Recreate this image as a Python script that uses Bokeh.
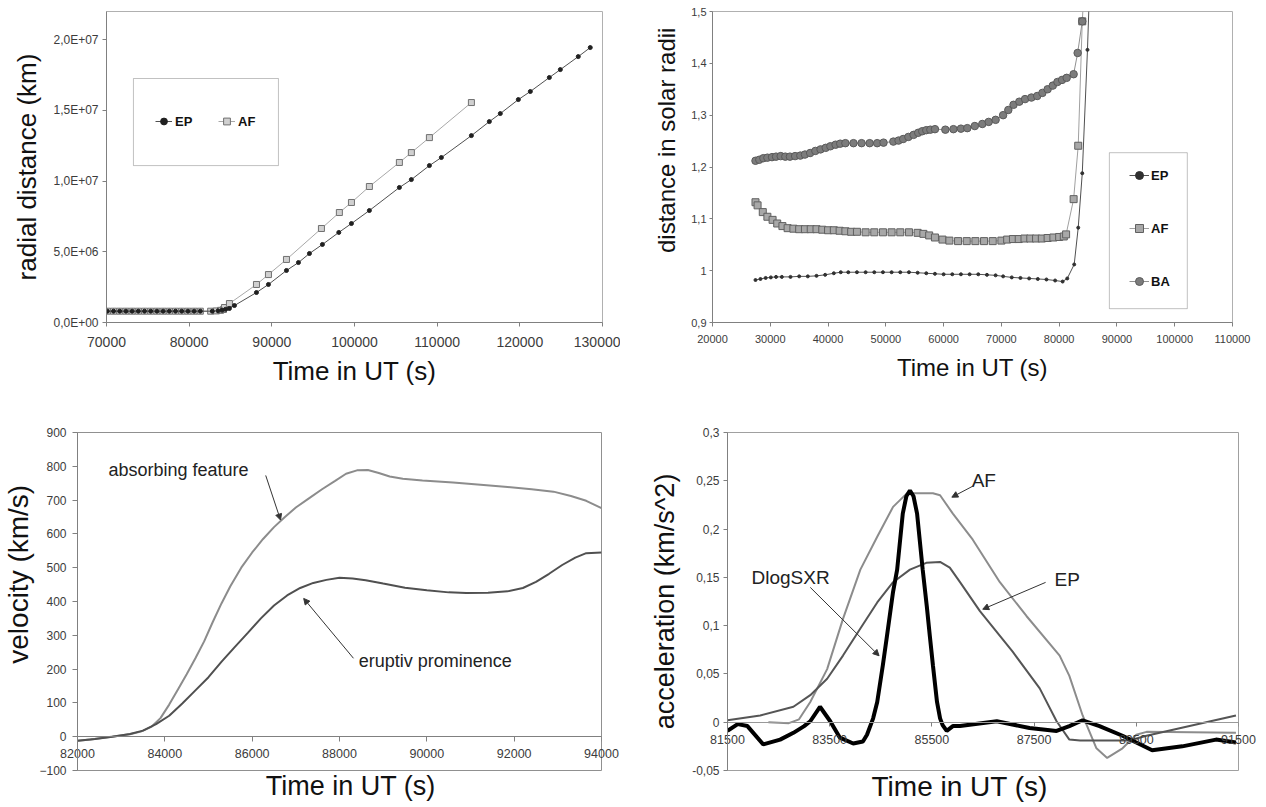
from bokeh.plotting import figure
from bokeh.layouts import row, column
from bokeh.models import (LinearAxis, FixedTicker, CustomJSTickFormatter, BasicTickFormatter,
                          Legend, LegendItem, BoxAnnotation, Label, Arrow, NormalHead, Range1d)
from bokeh.embed import file_html
from bokeh.resources import INLINE

FONT = "Liberation Sans"
NB = "\u00a0"

# ---------------- panel 1 : radial distance ----------------
rd_ep_t = [70100, 70850, 71600, 72350, 73100, 73850, 74600, 75350, 76100, 76850, 77600, 78350,
           79100, 79850, 80600, 81350, 82800, 83500, 84000, 84400, 84870, 85480, 88140, 89590,
           91770, 93220, 94550, 96120, 98100, 99630, 101800, 105430, 106880, 109060, 110510,
           114140, 116310, 117640, 119820, 121270, 123570, 124900, 127070, 128520]
rd_ep_r = [8.0e5, 8.0e5, 8.0e5, 8.0e5, 8.0e5, 8.0e5, 8.0e5, 8.0e5, 8.0e5, 8.0e5, 8.0e5, 8.0e5,
           8.0e5, 8.0e5, 8.0e5, 8.0e5, 8.0e5, 8.3e5, 8.8e5, 9.3e5, 9.9e5, 1.20e6, 2.12e6, 2.69e6,
           3.68e6, 4.24e6, 4.88e6, 5.52e6, 6.37e6, 7.0e6, 7.92e6, 9.55e6, 1.011e7, 1.11e7, 1.167e7,
           1.322e7, 1.421e7, 1.478e7, 1.577e7, 1.634e7, 1.733e7, 1.789e7, 1.881e7, 1.945e7]
rd_af_t = [70100, 70850, 71600, 72350, 73100, 73850, 74600, 75350, 76100, 76850, 77600, 78350,
           79100, 79850, 80600, 81350, 82600, 83300, 83800, 84150, 84270, 84870, 88140, 89590,
           91770, 96000, 98170, 99630, 101800, 105430, 106880, 109060, 114140]
rd_af_r = [8.0e5, 8.0e5, 8.0e5, 8.0e5, 8.0e5, 8.0e5, 8.0e5, 8.0e5, 8.0e5, 8.0e5, 8.0e5, 8.0e5,
           8.0e5, 8.0e5, 8.0e5, 8.0e5, 8.0e5, 8.2e5, 8.6e5, 9.2e5, 1.06e6, 1.34e6, 2.69e6, 3.39e6,
           4.46e6, 6.65e6, 7.78e6, 8.49e6, 9.62e6, 1.132e7, 1.202e7, 1.308e7, 1.556e7]
rd_xticks = [70000, 80000, 90000, 100000, 110000, 120000, 130000]
rd_yticks = [0, 5e6, 1e7, 1.5e7, 2e7]

# ---------------- panel 2 : distance in solar radii ----------------
sr_ep_t = [27440, 28300, 29200, 30100, 31000, 32000, 33500, 35000, 36500, 38000, 39500, 41000,
           42200, 43500, 45000, 46500, 48000, 49500, 51000, 52500, 54000, 55500, 57000, 58500,
           60000, 61500, 63000, 64500, 66000, 67500, 69000, 70300, 71800, 73300, 74800, 76300,
           77800, 79300, 80600, 81400, 82600, 83300, 84000, 84900, 85300]
sr_ep_r = [0.982, 0.984, 0.986, 0.987, 0.988, 0.988, 0.988, 0.989, 0.989, 0.990, 0.992, 0.995,
           0.997, 0.997, 0.997, 0.997, 0.997, 0.997, 0.997, 0.997, 0.997, 0.996, 0.995, 0.994,
           0.993, 0.993, 0.993, 0.993, 0.993, 0.992, 0.991, 0.989, 0.987, 0.986, 0.985, 0.984,
           0.983, 0.981, 0.979, 0.985, 1.012, 1.083, 1.188, 1.426, 1.56]
sr_af_t = [27440, 27800, 28700, 29500, 30400, 31200, 32100, 33000, 34000, 35000, 36000, 37000,
           38000, 39000, 40000, 41000, 42000, 43000, 44000, 45000, 46500, 48000, 49500, 51000,
           52500, 54000, 55500, 56500, 57500, 58500, 59800, 61000, 62500, 64000, 65500, 67000,
           68500, 70000, 71000, 72000, 73000, 74000, 75000, 76000, 77000, 78000, 79000, 80000,
           80800, 81200, 82500, 83300, 84000, 84400]
sr_af_r = [1.132, 1.126, 1.113, 1.104, 1.098, 1.091, 1.086, 1.082, 1.081, 1.080, 1.080, 1.080,
           1.080, 1.079, 1.078, 1.078, 1.077, 1.076, 1.075, 1.075, 1.074, 1.074, 1.074, 1.074,
           1.074, 1.074, 1.073, 1.071, 1.068, 1.064, 1.060, 1.058, 1.057, 1.057, 1.057, 1.057,
           1.057, 1.058, 1.060, 1.061, 1.061, 1.062, 1.062, 1.062, 1.062, 1.063, 1.064, 1.065,
           1.066, 1.070, 1.138, 1.241, 1.481, 1.560]
sr_ba_t = [27440, 28100, 28800, 29500, 30300, 31000, 31800, 32600, 33400, 34300, 35200, 36000,
           36900, 37800, 38700, 39600, 40400, 41300, 42100, 43000, 44400, 45800, 47200, 48500,
           49600, 51300, 52200, 53000, 53900, 54800, 55600, 56300, 57000, 57700, 58500, 60300,
           61700, 63000, 64100, 65400, 66700, 67800, 69000, 70300, 71200, 72100, 73100, 74100,
           75200, 76200, 77100, 78000, 78900, 79700, 80500, 81300, 82500, 83200, 84000]
sr_ba_r = [1.212, 1.214, 1.217, 1.218, 1.219, 1.220, 1.221, 1.220, 1.220, 1.221, 1.222, 1.224,
           1.227, 1.231, 1.234, 1.237, 1.240, 1.243, 1.245, 1.246, 1.246, 1.246, 1.246, 1.246,
           1.247, 1.249, 1.251, 1.254, 1.258, 1.262, 1.266, 1.269, 1.271, 1.272, 1.273, 1.272,
           1.273, 1.274, 1.275, 1.279, 1.283, 1.287, 1.291, 1.300, 1.310, 1.320, 1.326, 1.331,
           1.334, 1.337, 1.343, 1.350, 1.357, 1.364, 1.368, 1.372, 1.379, 1.420, 1.481]
sr_xticks = [20000, 30000, 40000, 50000, 60000, 70000, 80000, 90000, 100000, 110000]
sr_yticks = [0.9, 1.0, 1.1, 1.2, 1.3, 1.4, 1.5]

# ---------------- panel 3 : velocity ----------------
v_af_t = [82000, 82300, 82600, 82900, 83200, 83450, 83700, 83900, 84100, 84300, 84500, 84700,
          84900, 85100, 85300, 85500, 85750, 86000, 86250, 86500, 86750, 87000, 87300, 87600,
          87900, 88150, 88400, 88650, 88900, 89150, 89450, 89900, 90600, 91300, 91850, 92400,
          92900, 93300, 93650, 94000]
v_af_v = [-12, -8, -3, 2, 7, 15, 30, 55, 95, 140, 185, 232,
          282, 340, 395, 445, 500, 545, 585, 620, 650, 678, 705, 732,
          757, 778, 788, 789, 780, 770, 763, 758, 752, 745, 739, 732,
          725, 712, 698, 676]
v_ep_t = [82000, 82400, 82800, 83200, 83500, 83800, 84100, 84400, 84700, 85000, 85300, 85600,
          85900, 86200, 86500, 86800, 87100, 87400, 87700, 88000, 88300, 88600, 89000, 89500,
          90000, 90500, 90900, 91400, 91850, 92200, 92500, 92800, 93100, 93400, 93650, 94000]
v_ep_v = [-12, -7, 0, 8, 18, 37, 62, 98, 137, 176, 222, 265,
          307, 350, 388, 418, 440, 455, 464, 470, 468, 463, 453, 441,
          433, 427, 425, 426, 430, 440, 458, 482, 508, 530, 543, 545]
v_xticks = [82000, 84000, 86000, 88000, 90000, 92000, 94000]
v_yticks = [-100, 0, 100, 200, 300, 400, 500, 600, 700, 800, 900]

# ---------------- panel 4 : acceleration ----------------
a_af_t = [82300, 82700, 82900, 83120, 83450, 83760, 84100, 84430, 84740, 85010, 85300, 85520,
          85660, 85910, 86300, 86830, 87350, 88000, 88190, 88450, 88720, 88930, 89230, 89500,
          89700, 91450]
a_af_a = [0.000, -0.001, 0.003, 0.021, 0.055, 0.107, 0.158, 0.192, 0.223, 0.237, 0.237, 0.237,
          0.235, 0.216, 0.189, 0.145, 0.110, 0.069, 0.048, 0.007, -0.027, -0.037, -0.027, -0.013,
          -0.010, -0.011]
a_ep_t = [81500, 82140, 82790, 83120, 83450, 83760, 84100, 84430, 84740, 85070, 85390, 85660,
          85850, 86050, 86440, 87080, 87610, 87940, 88190, 88400, 89360, 89700, 91450]
a_ep_a = [0.002, 0.007, 0.016, 0.028, 0.045, 0.069, 0.097, 0.124, 0.145, 0.158, 0.165, 0.166,
          0.160, 0.145, 0.115, 0.073, 0.035, 0.001, -0.018, -0.019, -0.019, -0.014, 0.007]
a_sx_t = [81500, 81700, 81890, 82200, 82530, 82790, 83000, 83120, 83310, 83510, 83700, 83960,
          84150, 84230, 84350, 84430, 84540, 84620, 84740, 84820, 84930, 85000, 85070, 85140,
          85210, 85320, 85400, 85460, 85520, 85600, 85660, 85710, 85790, 85910, 86050, 86770,
          87410, 87940, 88190, 88450, 88780, 89230, 89810, 90400, 91060, 91450]
a_sx_a = [-0.009, -0.002, -0.004, -0.023, -0.018, -0.011, -0.004, 0.001, 0.016, 0.001, -0.016,
          -0.022, -0.020, -0.013, 0.004, 0.021, 0.059, 0.089, 0.135, 0.158, 0.216, 0.234, 0.240,
          0.234, 0.216, 0.158, 0.120, 0.089, 0.059, 0.021, 0.004, -0.003, -0.009, -0.004, -0.004,
          0.001, -0.006, -0.009, -0.004, 0.002, -0.004, -0.014, -0.029, -0.025, -0.018, -0.021]
a_xticks = [81500, 83500, 85500, 87500, 89500, 91500]
a_yticks = [-0.05, 0, 0.05, 0.1, 0.15, 0.2, 0.25, 0.3]


def make_fig(w, h, xr, yr, ml, mr, mt, mb):
    p = figure(width=w, height=h, output_backend="svg", toolbar_location=None,
               x_range=Range1d(*xr), y_range=Range1d(*yr),
               min_border_left=ml, min_border_right=mr, min_border_top=mt, min_border_bottom=mb)
    p.xgrid.visible = False
    p.ygrid.visible = False
    p.outline_line_color = "#b0b0b0"
    p.outline_line_width = 1
    p.background_fill_color = "white"
    p.border_fill_color = "white"
    return p


def style_axis(ax, tick_size, label_size, tick_out=4, standoff=4, label_standoff=6):
    ax.axis_line_color = "#808080"
    ax.axis_line_width = 1
    ax.major_tick_line_color = "#808080"
    ax.minor_tick_line_color = None
    ax.major_tick_out = tick_out
    ax.major_tick_in = 0
    ax.major_label_text_font = FONT
    ax.major_label_text_font_size = tick_size
    ax.major_label_text_color = "#3c3c3c"
    ax.major_label_standoff = standoff
    ax.axis_label_text_font = FONT
    ax.axis_label_text_font_size = label_size
    ax.axis_label_text_font_style = "normal"
    ax.axis_label_text_color = "#111111"
    ax.axis_label_standoff = label_standoff


def arrow(p, xs, ys, xe, ye):
    p.add_layout(Arrow(x_start=xs, y_start=ys, x_end=xe, y_end=ye, line_color="#333333",
                       line_width=1, end=NormalHead(size=6, fill_color="#333333",
                                                    line_color="#333333")))


# ======== panel 1 ========
p1 = make_fig(620, 391, (70000, 130000), (0, 2.2e7), 106, 18, 11, 69)
l1a = p1.line(rd_af_t, rd_af_r, line_color="#a8a8a8", line_width=1)
s1a = p1.scatter(rd_af_t, rd_af_r, marker="square", size=6, fill_color="#d0d0d0",
                 line_color="#707070", line_width=1)
l1e = p1.line(rd_ep_t, rd_ep_r, line_color="#505050", line_width=1)
s1e = p1.scatter(rd_ep_t, rd_ep_r, marker="circle", size=4, fill_color="#202020",
                 line_color="#202020")
p1.xaxis.ticker = FixedTicker(ticks=rd_xticks)
p1.xaxis.formatter = BasicTickFormatter(use_scientific=False)
p1.yaxis.ticker = FixedTicker(ticks=rd_yticks)
p1.yaxis.formatter = CustomJSTickFormatter(code="""
if (tick == 0) return "0,0E+00";
const e = Math.floor(Math.log10(Math.abs(tick)) + 1e-9);
const m = tick / Math.pow(10, e);
return m.toFixed(1).replace(".", ",") + "E+" + (e < 10 ? "0" + e : "" + e);
""")
style_axis(p1.xaxis[0], "14px", "26px", tick_out=4, standoff=10, label_standoff=6)
style_axis(p1.yaxis[0], "12px", "26px", tick_out=4, standoff=4, label_standoff=8)
p1.xaxis.axis_label = "Time in UT (s)"
p1.yaxis.axis_label = "radial distance (km)"
p1.add_layout(BoxAnnotation(left=73260, right=90800, bottom=1.11e7, top=1.726e7,
                            fill_alpha=0, line_color="#333333", line_width=1))
leg1 = Legend(items=[LegendItem(label="EP", renderers=[l1e, s1e]),
                     LegendItem(label="AF", renderers=[l1a, s1a])],
              orientation="horizontal", location=(49, 191), padding=0, margin=0,
              spacing=23, glyph_width=17, glyph_height=20, label_standoff=3,
              label_text_font=FONT, label_text_font_size="13px", label_text_font_style="bold",
              label_text_color="#111111", border_line_color=None, background_fill_alpha=0)
p1.add_layout(leg1)

# ======== panel 2 ========
p2 = make_fig(644, 391, (20000, 110000), (0.9, 1.5), 92, 32, 7, 69)
l2e = p2.line(sr_ep_t, sr_ep_r, line_color="#505050", line_width=1)
s2e = p2.scatter(sr_ep_t, sr_ep_r, marker="circle", size=3, fill_color="#303030",
                 line_color="#303030")
l2a = p2.line(sr_af_t, sr_af_r, line_color="#a0a0a0", line_width=1)
s2a = p2.scatter(sr_af_t, sr_af_r, marker="square", size=7, fill_color="#a8a8a8",
                 line_color="#606060", line_width=1)
l2b = p2.line(sr_ba_t, sr_ba_r, line_color="#909090", line_width=1)
s2b = p2.scatter(sr_ba_t, sr_ba_r, marker="circle", size=7.5, fill_color="#7c7c7c",
                 line_color="#5a5a5a", line_width=1)
p2.xaxis.ticker = FixedTicker(ticks=sr_xticks)
p2.xaxis.formatter = BasicTickFormatter(use_scientific=False)
p2.yaxis.ticker = FixedTicker(ticks=sr_yticks)
p2.yaxis.formatter = CustomJSTickFormatter(code="""
return (Math.round(tick * 10) / 10).toString().replace(".", ",");
""")
style_axis(p2.xaxis[0], "11px", "24px", tick_out=4, standoff=8, label_standoff=8)
style_axis(p2.yaxis[0], "11px", "24px", tick_out=3, standoff=3, label_standoff=8)
p2.xaxis.axis_label = "Time in UT (s)"
p2.yaxis.axis_label = NB * 8 + "distance in solar radii"
p2.add_layout(BoxAnnotation(left=88690, right=102180, bottom=0.9267, top=1.2276,
                            fill_alpha=0, line_color="#333333", line_width=1))
leg2 = Legend(items=[LegendItem(label="EP", renderers=[l2e, s2e]),
                     LegendItem(label="AF", renderers=[l2a, s2a]),
                     LegendItem(label="BA", renderers=[l2b, s2b])],
              orientation="vertical", location=(417, 31), padding=0, margin=0,
              spacing=33, glyph_width=20, glyph_height=20, label_standoff=2,
              label_text_font=FONT, label_text_font_size="13px", label_text_font_style="bold",
              label_text_color="#111111", border_line_color=None, background_fill_alpha=0)
p2.add_layout(leg2)

# ======== panel 3 ========
p3 = make_fig(620, 414, (82000, 94000), (-100, 900), 77, 19, 39, 35)
p3.outline_line_color = "#909090"
p3.line(v_af_t, v_af_v, line_color="#8c8c8c", line_width=2)
p3.line(v_ep_t, v_ep_v, line_color="#505050", line_width=2)
p3.yaxis.ticker = FixedTicker(ticks=v_yticks)
style_axis(p3.yaxis[0], "12px", "28px", tick_out=5, standoff=6, label_standoff=2)
p3.yaxis.axis_label = NB * 7 + "velocity (km/s)"
xa3 = p3.xaxis[0]
xa3.ticker = FixedTicker(ticks=v_xticks)
xa3.formatter = BasicTickFormatter(use_scientific=False)
style_axis(xa3, "12.5px", "27px", tick_out=0, standoff=-22, label_standoff=10)
xa3.axis_line_color = None
xa3.major_tick_line_color = None
xa3.axis_label = NB * 3 + "Time in UT (s)"
fx3 = LinearAxis(fixed_location=0, ticker=FixedTicker(ticks=v_xticks))
style_axis(fx3, "12px", "12px", tick_out=5, standoff=7)
fx3.major_label_text_color = None
p3.add_layout(fx3, "below")
p3.add_layout(Label(x=82710, y=788, text="absorbing feature", text_font=FONT,
                    text_font_size="18px", text_color="#222222", text_baseline="middle"))
p3.add_layout(Label(x=88440, y=224, text="eruptiv prominence", text_font=FONT,
                    text_font_size="18px", text_color="#222222", text_baseline="middle"))
arrow(p3, 86310, 773, 86650, 641)
arrow(p3, 88320, 232, 87180, 409)

# ======== panel 4 ========
p4 = make_fig(644, 414, (81500, 91500), (-0.05, 0.3), 107, 26, 41, 32)
p4.outline_line_color = "#a0a0a0"
p4.line(a_af_t, a_af_a, line_color="#8c8c8c", line_width=2)
p4.line(a_ep_t, a_ep_a, line_color="#555555", line_width=2)
p4.line(a_sx_t, a_sx_a, line_color="#000000", line_width=4)
p4.yaxis.ticker = FixedTicker(ticks=a_yticks)
p4.yaxis.formatter = CustomJSTickFormatter(code="""
return (Math.round(tick * 100) / 100).toString().replace(".", ",");
""")
style_axis(p4.yaxis[0], "12px", "27px", tick_out=4, standoff=4, label_standoff=9)
p4.yaxis.axis_label = "acceleration (km/s^2)"
xa4 = p4.xaxis[0]
xa4.ticker = FixedTicker(ticks=a_xticks)
xa4.formatter = BasicTickFormatter(use_scientific=False)
style_axis(xa4, "12.5px", "28px", tick_out=0, standoff=-36, label_standoff=24)
xa4.axis_line_color = None
xa4.major_tick_line_color = None
xa4.axis_label = "Time in UT (s)" + NB * 6
fx4 = LinearAxis(fixed_location=0, ticker=FixedTicker(ticks=a_xticks))
style_axis(fx4, "12px", "12px", tick_out=4, standoff=8)
fx4.axis_line_color = "#999999"
fx4.major_label_text_color = None
p4.add_layout(fx4, "below")
p4.add_layout(Label(x=86515, y=0.2505, text="AF", text_font=FONT, text_font_size="19px",
                    text_color="#222222", text_baseline="middle", text_align="center"))
p4.add_layout(Label(x=87900, y=0.148, text="EP", text_font=FONT, text_font_size="19px",
                    text_color="#222222", text_baseline="middle"))
p4.add_layout(Label(x=81970, y=0.150, text="DlogSXR", text_font=FONT, text_font_size="19px",
                    text_color="#222222", text_baseline="middle"))
arrow(p4, 86300, 0.2444, 85890, 0.233)
arrow(p4, 87725, 0.1448, 86495, 0.117)
arrow(p4, 83120, 0.1396, 84466, 0.0688)

layout = column(row(p1, p2), row(p3, p4))
open("out.html", "w").write(file_html(layout, INLINE))
